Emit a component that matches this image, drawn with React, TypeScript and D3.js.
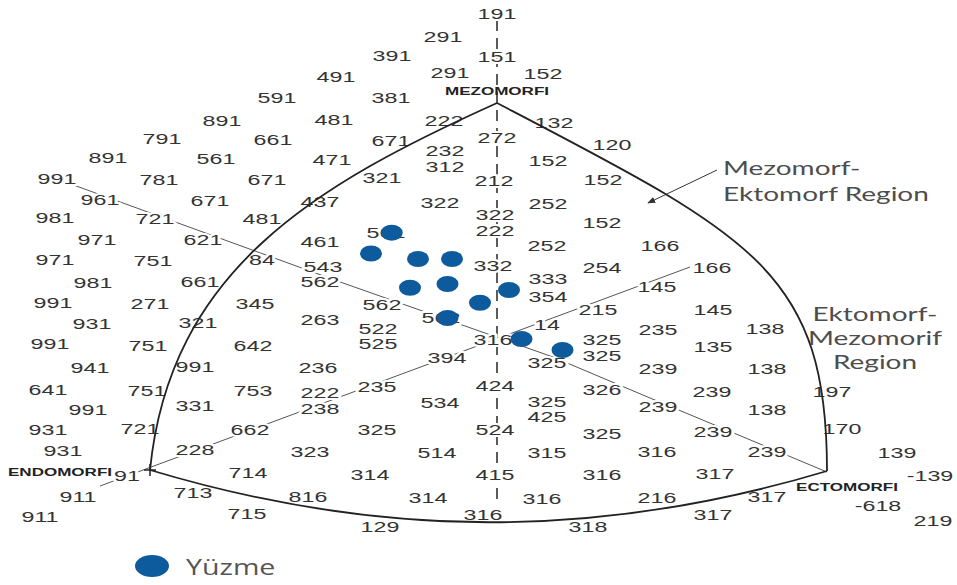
import React from 'react';
import * as d3 from 'd3';

type Lbl = [string, number, number];
type Pt = [number, number];

// Somatotype labels: [text, X, Y] in somatochart units
const somatoLabels: Lbl[] = [
  ['191', 0, 11.44], ['291', -1.08, 10.52], ['391', -2.1, 9.76], ['151', 0, 9.72],
  ['491', -3.22, 8.92], ['291', -0.94, 9.08], ['152', 0.92, 9.04], ['591', -4.4, 8.08],
  ['381', -2.12, 8.08], ['891', -5.5, 7.16], ['481', -3.26, 7.2], ['222', -1.06, 7.16],
  ['132', 1.14, 7.08], ['791', -6.7, 6.44], ['661', -4.48, 6.4], ['671', -2.12, 6.36],
  ['272', 0, 6.48], ['120', 2.3, 6.2], ['891', -7.78, 5.68], ['561', -5.62, 5.64],
  ['471', -3.3, 5.6], ['232', -1.04, 5.96], ['312', -1.04, 5.32], ['152', 1.02, 5.56],
  ['991', -8.8, 4.84], ['781', -6.76, 4.8], ['671', -4.6, 4.8], ['321', -2.3, 4.88],
  ['212', -0.06, 4.76], ['152', 2.12, 4.8], ['961', -7.94, 4.0], ['671', -5.74, 3.96],
  ['437', -3.54, 3.92], ['322', -1.14, 3.88], ['252', 1.02, 3.84], ['981', -8.84, 3.28],
  ['721', -6.84, 3.24], ['481', -4.7, 3.24], ['322', -0.04, 3.4], ['222', -0.04, 2.76],
  ['152', 2.1, 3.08], ['971', -8.0, 2.4], ['621', -5.88, 2.4], ['461', -3.54, 2.32],
  ['252', 1.0, 2.16], ['166', 3.26, 2.16], ['971', -8.84, 1.6], ['751', -6.88, 1.56],
  ['84', -4.7, 1.6], ['543', -3.48, 1.32], ['332', -0.08, 1.36], ['254', 2.1, 1.28],
  ['166', 4.3, 1.28], ['981', -8.08, 0.68], ['661', -5.94, 0.72], ['562', -3.54, 0.72],
  ['333', 1.02, 0.84], ['145', 3.2, 0.52], ['991', -8.88, -0.12], ['271', -6.94, -0.16],
  ['345', -4.84, -0.16], ['562', -2.3, -0.2], ['354', 1.02, 0.12], ['215', 2.02, -0.4],
  ['145', 4.32, -0.4], ['931', -8.1, -0.96], ['321', -5.98, -0.92], ['263', -3.54, -0.8],
  ['562', -1.12, -0.72], ['522', -2.38, -1.16], ['14', 1.0, -1.0], ['235', 3.22, -1.2],
  ['138', 5.36, -1.16], ['316', -0.08, -1.6], ['325', 2.1, -1.6], ['991', -8.94, -1.76],
  ['751', -6.98, -1.84], ['642', -4.88, -1.84], ['525', -2.38, -1.76], ['135', 4.32, -1.88],
  ['325', 2.1, -2.24], ['394', -1.0, -2.32], ['325', 1.0, -2.52], ['941', -8.14, -2.72],
  ['991', -6.04, -2.68], ['236', -3.58, -2.72], ['239', 3.22, -2.76], ['138', 5.4, -2.76],
  ['424', -0.04, -3.44], ['235', -2.4, -3.48], ['326', 2.1, -3.6], ['641', -8.98, -3.6],
  ['751', -7.0, -3.64], ['753', -4.88, -3.64], ['222', -3.54, -3.72], ['239', 4.3, -3.68],
  ['197', 6.7, -3.68], ['534', -1.14, -4.12], ['325', 1.0, -4.08], ['991', -8.18, -4.4],
  ['331', -6.04, -4.24], ['238', -3.54, -4.36], ['239', 3.22, -4.28], ['138', 5.4, -4.4],
  ['425', 1.0, -4.68], ['931', -8.98, -5.2], ['721', -7.14, -5.16], ['662', -4.94, -5.2],
  ['325', -2.4, -5.2], ['524', -0.04, -5.2], ['325', 2.1, -5.36], ['239', 4.32, -5.28],
  ['170', 6.9, -5.16], ['931', -8.68, -6.04], ['228', -6.04, -6.0], ['323', -3.74, -6.08],
  ['514', -1.2, -6.12], ['315', 1.0, -6.12], ['316', 3.2, -6.08], ['239', 5.4, -6.08],
  ['139', 8.0, -6.12], ['91', -7.4, -7.04], ['714', -4.98, -6.92], ['314', -2.54, -7.0],
  ['415', -0.04, -7.0], ['316', 2.1, -7.0], ['317', 4.36, -6.96], ['-139', 8.66, -7.04],
  ['911', -8.38, -7.88], ['713', -6.08, -7.72], ['816', -3.78, -7.88], ['314', -1.38, -7.92],
  ['316', 0.9, -7.96], ['216', 3.2, -7.92], ['317', 5.4, -7.88], ['-618', 7.62, -8.24],
  ['911', -9.14, -8.68], ['715', -5.0, -8.56], ['316', -0.28, -8.6], ['317', 4.32, -8.6],
  ['129', -2.34, -9.08], ['318', 1.82, -9.08], ['219', 8.72, -8.84], ['561', -2.22, 2.68],
];

const vertexLabels: Lbl[] = [
  ['MEZOMORFI', 0, 8.36],
  ['ENDOMORFI', -8.74, -6.88],
  ['ECTOMORFI', 7.0, -7.48],
];

// Swimmers (Yüzme) somatotype points [X, Y]
const swimmers: Pt[] = [
  [-2.106, 2.692], [-2.52, 1.86], [-1.58, 1.64], [-0.9, 1.64], [-1.74, 0.49],
  [-0.99, 0.64], [0.24, 0.4], [-0.34, -0.11], [-0.99, -0.72], [0.49, -1.56], [1.31, -2.0],
];

// Somatochart boundary edges (cubic Bezier control points)
const somatoEdges: Pt[][] = [
  [[-6.94, -6.8], [-6.54, 1.2], [-3.64, 4.6], [0, 7.88]],
  [[0, 7.88], [5.1, 2.56], [6.6, 1.16], [6.6, -6.84]],
  [[-6.94, -6.8], [-2.34, -9.56], [2.0, -9.6], [6.6, -6.84]],
];

const centerAxis: Pt[] = [[0, 11.2], [0, -8.2]];
const guideA: Pt[] = [[-8.58, 4.68], [-3.08, 0.68], [1.12, -2.28], [3.06, -3.92], [6.6, -6.88]];
const guideB: Pt[] = [[-7.94, -7.44], [3.86, 1.32]];
const regionArrow: Pt[] = [[4.4, 5.2], [3.02, 3.88]];

const regionMezoEkto: Lbl[] = [['Mezomorf-', 4.52, 5.32], ['Ektomorf Region', 4.52, 4.28]];
const regionEktoMezo: Lbl[] = [['Ektomorf-', 7.56, -0.52], ['Mezomorif', 7.56, -1.48], ['Region', 7.56, -2.44]];

const legendItems: Lbl[] = [['Yüzme', -6.9, -10.64]];

const W = 957;
const H = 585;

export default function App() {
  const x = d3.scaleLinear().domain([-10, 10]).range([-3, 997]);
  const y = d3.scaleLinear().domain([-10, 12]).range([550, 0]);
  const line = d3.line<Pt>().x((d) => x(d[0])).y((d) => y(d[1]));

  const edgePath = (e: Pt[]) => {
    const p = d3.path();
    p.moveTo(x(e[0][0]), y(e[0][1]));
    p.bezierCurveTo(x(e[1][0]), y(e[1][1]), x(e[2][0]), y(e[2][1]), x(e[3][0]), y(e[3][1]));
    return p.toString();
  };

  const numFont = "'Liberation Sans', Arial, sans-serif";
  const regionFont = "Lato, 'Open Sans', sans-serif";
  const legendFont = "'Open Sans', 'Noto Sans', sans-serif";
  const endo = somatoEdges[0][0];

  return (
    <svg
      width={W}
      height={H}
      style={{ position: 'absolute', left: 0, top: 0, background: '#fff' }}
    >
      <defs>
        <marker id="arr" viewBox="0 0 10 10" refX="9" refY="5" markerWidth="8" markerHeight="8" orient="auto">
          <path d="M0,1 L10,5 L0,9 Z" fill="#333" />
        </marker>
      </defs>
      <rect width={W} height={H} fill="#fff" />
      <path d={line(centerAxis) || ''} stroke="#333" strokeWidth={1.6} strokeDasharray="11 7" fill="none" />
      <path d={line(guideA) || ''} stroke="#555" strokeWidth={1} fill="none" />
      <path d={line(guideB) || ''} stroke="#555" strokeWidth={1} fill="none" />

      <g fontFamily={numFont} fontSize={15} fill="#333">
        {somatoLabels.map(([t, X, Y], i) => (
          <text
            key={i}
            transform={`translate(${x(X)},${y(Y)}) scale(1.55,1)`}
            textAnchor="middle"
            dominantBaseline="central"
            stroke="#fff"
            strokeWidth={4}
            strokeLinejoin="round"
            paintOrder="stroke"
          >
            {t}
          </text>
        ))}
      </g>

      {somatoEdges.map((e, i) => (
        <path key={i} d={edgePath(e)} stroke="#222" strokeWidth={1.8} fill="none" />
      ))}
      <path
        d={`M${x(endo[0]) - 6},${y(endo[1])}H${x(endo[0]) + 6}M${x(endo[0])},${y(endo[1]) - 6}V${y(endo[1]) + 6}`}
        stroke="#222"
        strokeWidth={1.5}
      />

      <g fontFamily={numFont} fontSize={11} fontWeight="bold" fill="#222">
        {vertexLabels.map(([t, X, Y], i) => (
          <text
            key={i}
            transform={`translate(${x(X)},${y(Y)}) scale(1.55,1)`}
            textAnchor="middle"
            dominantBaseline="central"
          >
            {t}
          </text>
        ))}
      </g>

      <path d={line(regionArrow) || ''} stroke="#333" strokeWidth={1} fill="none" markerEnd="url(#arr)" />

      <g fontFamily={regionFont} fontSize={20} fill="#4d4d4d">
        {regionMezoEkto.map(([t, X, Y], i) => (
          <text key={'a' + i} transform={`translate(${x(X)},${y(Y)}) scale(1.4,1)`} dominantBaseline="central">
            {t}
          </text>
        ))}
        {regionEktoMezo.map(([t, X, Y], i) => (
          <text
            key={'b' + i}
            transform={`translate(${x(X)},${y(Y)}) scale(1.4,1)`}
            textAnchor="middle"
            dominantBaseline="central"
          >
            {t}
          </text>
        ))}
      </g>

      <g fill="#0d5a9c">
        {swimmers.map(([X, Y], i) => (
          <ellipse key={i} cx={x(X)} cy={y(Y)} rx={11} ry={8} />
        ))}
      </g>

      {legendItems.map(([t, X, Y], i) => (
        <g key={i}>
          <ellipse cx={x(X)} cy={y(Y)} rx={17} ry={11} fill="#0d5a9c" />
          <text
            transform={`translate(${x(X) + 34},${y(Y)}) scale(1.3,1)`}
            fontFamily={legendFont}
            fontSize={22}
            fill="#555"
            dominantBaseline="central"
          >
            {t}
          </text>
        </g>
      ))}
    </svg>
  );
}
